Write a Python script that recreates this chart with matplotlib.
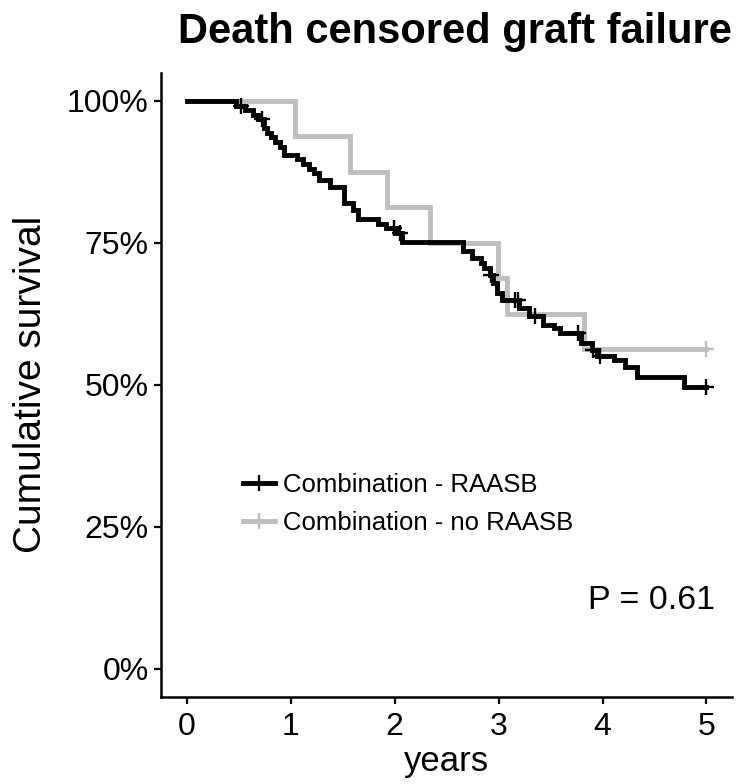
import numpy as np
import matplotlib
matplotlib.use("Agg")
import matplotlib.pyplot as plt
from matplotlib.lines import Line2D
from matplotlib.ticker import FuncFormatter

plt.rcParams["font.family"] = ["Liberation Sans", "DejaVu Sans"]

# Kaplan-Meier steps: (time of drop, survival after drop)
raasb_times = [0.47, 0.56, 0.64, 0.68, 0.74, 0.77, 0.81, 0.85, 0.90, 0.93,
               1.06, 1.12, 1.17, 1.22, 1.27, 1.38, 1.51, 1.60, 1.65, 1.84,
               1.92, 2.02, 2.07, 2.66, 2.74, 2.83, 2.86, 2.92, 2.95, 2.98,
               3.03, 3.20, 3.29, 3.43, 3.53, 3.59, 3.79, 3.90, 3.95, 4.11,
               4.22, 4.33, 4.78]
raasb_surv = [0.992, 0.984, 0.976, 0.968, 0.952, 0.944, 0.936, 0.928, 0.919, 0.905,
              0.897, 0.889, 0.881, 0.873, 0.861, 0.849, 0.821, 0.808, 0.792, 0.784,
              0.776, 0.767, 0.751, 0.735, 0.723, 0.715, 0.705, 0.693, 0.679, 0.662,
              0.650, 0.636, 0.621, 0.605, 0.600, 0.591, 0.573, 0.562, 0.550, 0.543,
              0.532, 0.514, 0.496]
raasb_censor = [0.52, 0.72, 1.99, 2.05, 2.93, 3.16, 3.19, 3.35, 3.76, 3.91, 3.98, 5.0]

noraasb_times = [1.04, 1.57, 1.93, 2.34, 2.99, 3.08, 3.82]
noraasb_surv = [0.9375, 0.875, 0.8125, 0.75, 0.6875, 0.625, 0.5625]
noraasb_censor = [5.0]

t_end = 5.0
labels = ["Combination - RAASB", "Combination - no RAASB"]
colors = ["black", "#BEBEBE"]
p_text = "P = 0.61"

LW = 3.5
MS = 12
MEW = 1.7


def km_curve(times, surv):
    x = np.concatenate([[0.0], times, [t_end]])
    y = np.concatenate([[1.0], surv, [surv[-1]]])
    return x, y


def surv_at(times, surv, t):
    idx = np.searchsorted(times, t, side="right") - 1
    levels = np.concatenate([[1.0], surv])
    return levels[idx + 1]


fig = plt.figure(figsize=(7.42, 7.84), dpi=100)
ax = fig.add_axes([0.217, 0.111, 0.77, 0.7964])

series = [(noraasb_times, noraasb_surv, noraasb_censor, colors[1]),
          (raasb_times, raasb_surv, raasb_censor, colors[0])]
for times, surv, cens, col in series:
    x, y = km_curve(np.array(times), np.array(surv))
    ax.plot(x, y, drawstyle="steps-post", color=col, lw=LW,
            solid_joinstyle="miter")
    cy = [surv_at(np.array(times), np.array(surv), c) for c in cens]
    ax.plot(cens, cy, ls="none", marker="+", ms=MS, mew=MEW, color=col)

ax.set_xlim(-0.25, 5.25)
ax.set_ylim(-0.05, 1.05)
ax.set_xticks(range(0, 6))
ax.set_yticks([0, 0.25, 0.5, 0.75, 1.0])
ax.yaxis.set_major_formatter(FuncFormatter(lambda v, _: f"{v*100:.0f}%"))
ax.tick_params(labelsize=23, length=5, width=1.6, direction="out", pad=4)
ax.tick_params(axis="x", pad=6)
for side in ("top", "right"):
    ax.spines[side].set_visible(False)
for side in ("left", "bottom"):
    ax.spines[side].set_linewidth(1.8)

ax.set_xlabel("years", fontsize=25, labelpad=2)
ax.set_ylabel("Cumulative survival", fontsize=28, labelpad=13)

handles = [Line2D([], [], color=colors[0], lw=LW, marker="+", ms=MS, mew=MEW),
           Line2D([], [], color=colors[1], lw=LW, marker="+", ms=MS, mew=MEW)]
ax.legend(handles, labels, loc="upper left", bbox_to_anchor=(0.1436, 0.359),
          frameon=False, fontsize=18.5, handlelength=1.25, handletextpad=0.32,
          labelspacing=0.56, borderpad=0, borderaxespad=0)

ax.text(0.97, 0.155, p_text, transform=ax.transAxes, ha="right", va="center",
        fontsize=24.5)

fig.text(0.613, 0.945, "Death censored graft failure", ha="center",
         va="baseline", fontsize=30, fontweight="bold")

fig.savefig("out.png", dpi=100)
